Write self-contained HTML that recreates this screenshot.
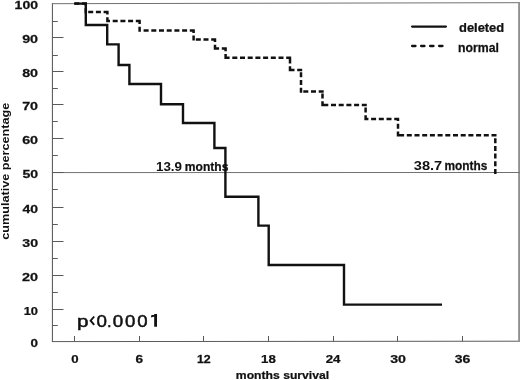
<!DOCTYPE html>
<html>
<head>
<meta charset="utf-8">
<title>Survival</title>
<style>
html,body{margin:0;padding:0;background:#fff;}
body{width:520px;height:380px;overflow:hidden;}
svg{display:block;}
text{font-family:"Liberation Sans",sans-serif;font-weight:bold;font-size:11px;fill:#111;}
</style>
</head>
<body>
<svg width="520" height="380" viewBox="0 0 520 380">
<rect x="0" y="0" width="520" height="380" fill="#fff"/>
<defs><filter id="gs" filterUnits="userSpaceOnUse" x="0" y="0" width="520" height="380" color-interpolation-filters="sRGB"><feColorMatrix type="saturate" values="0"/><feGaussianBlur stdDeviation="0.32"/></filter></defs>
<g filter="url(#gs)">
<g fill="none">
<line x1="52.4" y1="3" x2="52.4" y2="342" stroke="#505050" stroke-width="1"/>
<line x1="52" y1="3.7" x2="520" y2="2.7" stroke="#707070" stroke-width="1"/>
<line x1="52" y1="341.6" x2="520" y2="341.2" stroke="#5a5a5a" stroke-width="1"/>
<line x1="519.1" y1="2.4" x2="519.1" y2="342" stroke="#909090" stroke-width="1.9"/>
<line x1="52" y1="172.6" x2="520" y2="172.5" stroke="#707070" stroke-width="1"/>
</g>
<g stroke="#5a5a5a" stroke-width="1">
<line x1="52.4" y1="325.50" x2="57.8" y2="325.50"/>
<line x1="52.4" y1="309.50" x2="63.5" y2="309.50"/>
<line x1="52.4" y1="292.50" x2="57.8" y2="292.50"/>
<line x1="52.4" y1="275.50" x2="63.5" y2="275.50"/>
<line x1="52.4" y1="258.50" x2="57.8" y2="258.50"/>
<line x1="52.4" y1="241.50" x2="63.5" y2="241.50"/>
<line x1="52.4" y1="224.50" x2="57.8" y2="224.50"/>
<line x1="52.4" y1="207.50" x2="63.5" y2="207.50"/>
<line x1="52.4" y1="189.50" x2="57.8" y2="189.50"/>
<line x1="52.4" y1="172.50" x2="63.5" y2="172.50"/>
<line x1="52.4" y1="155.50" x2="57.8" y2="155.50"/>
<line x1="52.4" y1="138.50" x2="63.5" y2="138.50"/>
<line x1="52.4" y1="121.50" x2="57.8" y2="121.50"/>
<line x1="52.4" y1="104.50" x2="63.5" y2="104.50"/>
<line x1="52.4" y1="88.50" x2="57.8" y2="88.50"/>
<line x1="52.4" y1="71.50" x2="63.5" y2="71.50"/>
<line x1="52.4" y1="55.50" x2="57.8" y2="55.50"/>
<line x1="52.4" y1="37.50" x2="63.5" y2="37.50"/>
<line x1="52.4" y1="21.50" x2="57.8" y2="21.50"/>
<line x1="74.50" y1="341.5" x2="74.50" y2="336"/>
<line x1="139.50" y1="341.5" x2="139.50" y2="336"/>
<line x1="203.50" y1="341.5" x2="203.50" y2="336"/>
<line x1="268.50" y1="341.5" x2="268.50" y2="336"/>
<line x1="333.50" y1="341.5" x2="333.50" y2="336"/>
<line x1="397.50" y1="341.5" x2="397.50" y2="336"/>
<line x1="462.50" y1="341.5" x2="462.50" y2="336"/>
</g>
<path d="M87.00 3.5H74.4M85.8 13.20V3.5M108.60 12H85.8M107.4 22.20V12M140.80 21H107.4M139.6 31.80V21M194.80 30.6H139.6M193.6 40.60V30.6M216.20 39.4H193.6M215 49.80V39.4M226.80 48.6H215M225.6 59.00V48.6M291.20 57.8H225.6M290 71.20V57.8M302.20 70H290M301 92.70V70M323.70 91.5H301M322.5 106.20V91.5M366.80 105H322.5M365.6 120.20V105M399.20 119H365.6M398 136.50V119M496.50 135.3H398M495.3 174V135.3" fill="none" stroke="#111" stroke-width="2.5" stroke-dasharray="5 2.7"/>
<path d="M74.2 3.6H85.8V25H107.2V44.4H118.6V65H129.4V84H161V104.2H183V123H214.4V148H225.4V196.8H258.4V225.6H268.7V265H344V304.6H442" fill="none" stroke="#111" stroke-width="2.4"/>
<line x1="412.1" y1="26.6" x2="445.9" y2="26.6" stroke="#111" stroke-width="2.3" stroke-linecap="round"/>
<line x1="412.1" y1="46" x2="443" y2="46" stroke="#111" stroke-width="2.3" stroke-dasharray="3.4 5.6" stroke-linecap="round"/>
<path d="M154.2 314.1H157V326.7H154.2ZM151.1 315.4L154.3 314.1V316.6L151.1 317.4Z" fill="#111"/>
<path d="M94.2 316.5L90.6 320.7L94.2 324.9" fill="none" stroke="#111" stroke-width="1.9"/>
<text transform="translate(30.58,347.10) scale(1.157,1)" style="font-size:11.6px;stroke:#111;stroke-width:0.25px;">0</text>
<text transform="translate(23.69,315.10) scale(1.110,1)" style="font-size:11.6px;stroke:#111;stroke-width:0.25px;">10</text>
<text transform="translate(22.05,281.10) scale(1.243,1)" style="font-size:11.6px;stroke:#111;stroke-width:0.25px;">20</text>
<text transform="translate(22.28,247.10) scale(1.224,1)" style="font-size:11.6px;stroke:#111;stroke-width:0.25px;">30</text>
<text transform="translate(22.50,213.10) scale(1.207,1)" style="font-size:11.6px;stroke:#111;stroke-width:0.25px;">40</text>
<text transform="translate(22.38,178.10) scale(1.216,1)" style="font-size:11.6px;stroke:#111;stroke-width:0.25px;">50</text>
<text transform="translate(22.15,144.10) scale(1.234,1)" style="font-size:11.6px;stroke:#111;stroke-width:0.25px;">60</text>
<text transform="translate(22.15,110.10) scale(1.234,1)" style="font-size:11.6px;stroke:#111;stroke-width:0.25px;">70</text>
<text transform="translate(22.15,77.10) scale(1.234,1)" style="font-size:11.6px;stroke:#111;stroke-width:0.25px;">80</text>
<text transform="translate(22.15,43.10) scale(1.234,1)" style="font-size:11.6px;stroke:#111;stroke-width:0.25px;">90</text>
<text transform="translate(14.62,9.10) scale(1.212,1)" style="font-size:11.6px;stroke:#111;stroke-width:0.25px;">100</text>
<text transform="translate(71.19,362.90) scale(1.139,1)" style="font-size:11.6px;stroke:#111;stroke-width:0.25px;">0</text>
<text transform="translate(135.59,362.90) scale(1.172,1)" style="font-size:11.6px;stroke:#111;stroke-width:0.25px;">6</text>
<text transform="translate(196.92,362.90) scale(1.068,1)" style="font-size:11.6px;stroke:#111;stroke-width:0.25px;">12</text>
<text transform="translate(261.03,362.90) scale(1.144,1)" style="font-size:11.6px;stroke:#111;stroke-width:0.25px;">18</text>
<text transform="translate(325.67,362.90) scale(1.142,1)" style="font-size:11.6px;stroke:#111;stroke-width:0.25px;">24</text>
<text transform="translate(390.18,362.90) scale(1.224,1)" style="font-size:11.6px;stroke:#111;stroke-width:0.25px;">30</text>
<text transform="translate(454.80,362.90) scale(1.207,1)" style="font-size:11.6px;stroke:#111;stroke-width:0.25px;">36</text>
<text transform="translate(459.00,32.20) scale(1.059,1)" style="font-size:12.2px;stroke:#111;stroke-width:0.25px;">deleted</text>
<text transform="translate(457.93,51.60) scale(1.008,1)" style="font-size:12.2px;stroke:#111;stroke-width:0.25px;">normal</text>
<text transform="translate(155.96,170.60) scale(1.072,1)" style="font-size:12.5px;">13.9</text>
<text transform="translate(184.84,170.50) scale(0.959,1)" style="font-size:12.6px;stroke:#111;stroke-width:0.25px;">months</text>
<text transform="translate(413.77,169.60) scale(1.172,1)" style="font-size:12.5px;">38.7</text>
<text transform="translate(444.56,169.60) scale(0.943,1)" style="font-size:12.6px;stroke:#111;stroke-width:0.25px;">months</text>
<text transform="translate(235.84,378.80) scale(1.059,1)" style="font-size:11.5px;stroke:#111;stroke-width:0.25px;">months survival</text>
<text transform="translate(76.96,326.80) scale(1.200,1)" style="font-size:17.2px;font-weight:normal;stroke:#111;stroke-width:0.5px;">p</text>
<text transform="translate(96.56,326.80) scale(1.093,1)" style="font-size:17.2px;font-weight:normal;stroke:#111;stroke-width:0.5px;">0</text>
<text transform="translate(107.11,326.80) scale(0.957,1)" style="font-size:17.2px;font-weight:normal;stroke:#111;stroke-width:0.5px;">.</text>
<text transform="translate(112.86,326.80) scale(1.093,1)" style="font-size:17.2px;font-weight:normal;stroke:#111;stroke-width:0.5px;">0</text>
<text transform="translate(125.07,326.80) scale(1.081,1)" style="font-size:17.2px;font-weight:normal;stroke:#111;stroke-width:0.5px;">0</text>
<text transform="translate(137.17,326.80) scale(1.081,1)" style="font-size:17.2px;font-weight:normal;stroke:#111;stroke-width:0.5px;">0</text>
<text transform="translate(9.1,239.80) rotate(-90) scale(1.131,1)" style="font-size:11.2px">cumulative percentage</text>
</g>
</svg>
</body>
</html>
